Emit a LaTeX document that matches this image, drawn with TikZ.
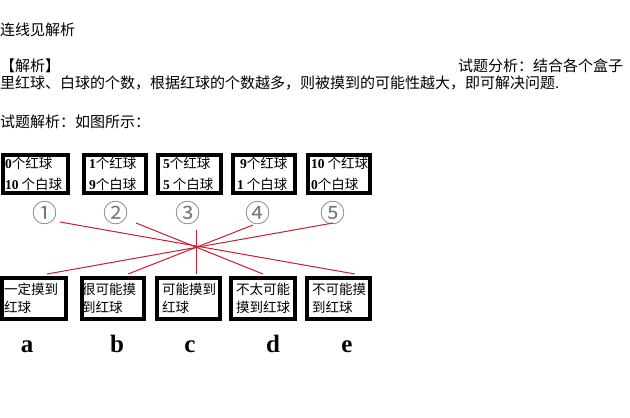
\documentclass[tikz,border=0pt]{standalone}
\usepackage{fontspec}
\setmainfont{Liberation Serif}
\newfontfamily\cjk{Noto Sans CJK SC}
\usetikzlibrary{positioning}
\definecolor{linered}{RGB}{200,30,45}
\definecolor{numgray}{RGB}{120,120,120}
\tikzset{
  txt/.style={inner sep=0pt, anchor=west, font=\cjk\fontsize{15}{16}\selectfont},
  ballbox/.style={draw=black, line width=4pt, minimum height=38pt, inner sep=0pt},
  resbox/.style={draw=black, line width=4pt, minimum height=41pt, inner sep=0pt},
  boxtxt/.style={inner sep=0pt, anchor=west, align=left, font=\cjk\fontsize{13.5}{21}\selectfont},
  restxt/.style={inner sep=0pt, anchor=west, align=left, font=\cjk\fontsize{13.5}{18}\selectfont},
  circnum/.style={inner sep=0pt, text=numgray, font=\cjk\fontsize{25}{25}\selectfont},
  letter/.style={inner sep=0pt, anchor=base, font=\bfseries\fontsize{25}{25}\selectfont},
  conn/.style={draw=linered, line width=1pt}
}
\newcommand{\nm}[1]{{\rmfamily\bfseries #1}}
\begin{document}
\begin{tikzpicture}[x=1pt,y=-1pt]
\useasboundingbox (0,0) rectangle (630,418);
% header text
\node[txt] (t1) at (0,30) {连线见解析};
\node[txt] (t2) at (0,66) {【解析】};
\node[txt] (t3) at (458,66) {试题分析：结合各个盒子};
\node[txt] (t4) at (0,83) {里红球、白球的个数，根据红球的个数越多，则被摸到的可能性越大，即可解决问题\textcolor{blue}{.}};
\node[txt] (t5) at (0,122) {试题解析：如图所示：};
% top boxes
\node[ballbox, minimum width=65pt] (b1) at (35.5,174) {};
\node[ballbox, minimum width=62pt] (b2) at (115,174) {};
\node[ballbox, minimum width=63pt] (b3) at (189.5,174) {};
\node[ballbox, minimum width=62pt] (b4) at (264,174) {};
\node[ballbox, minimum width=62pt] (b5) at (339,174) {};
\node[boxtxt] (bt1) at (5,174) {\nm{0}个红球\\\nm{10} 个白球};
\node[boxtxt] (bt2) at (89,174) {\nm{1}个红球\\\nm{9}个白球};
\node[boxtxt] (bt3) at (163,174) {\nm{5}个红球\\\nm{5} 个白球};
\node[boxtxt] (bt4) at (237,174) {\ \nm{9}个红球\\\nm{1} 个白球};
\node[boxtxt] (bt5) at (311,174) {\nm{10} 个红球\\\nm{0}个白球};
% circled numbers
\node[circnum] (c1) at (45,213) {①};
\node[circnum] (c2) at (116,213) {②};
\node[circnum] (c3) at (188,213) {③};
\node[circnum] (c4) at (258,213) {④};
\node[circnum] (c5) at (333,213) {⑤};
% bottom boxes
\node[resbox, minimum width=64pt] (ra) at (34,298.5) {};
\node[resbox, minimum width=62pt] (rb) at (113,298.5) {};
\node[resbox, minimum width=63pt] (rc) at (188.5,298.5) {};
\node[resbox, minimum width=64pt] (rd) at (263,298.5) {};
\node[resbox, minimum width=63pt] (re) at (338.5,298.5) {};
\node[restxt] (rta) at (4,298.5) {一定摸到\\红球};
\node[restxt] (rtb) at (82,298.5) {很可能摸\\到红球};
\node[restxt] (rtc) at (162,298.5) {可能摸到\\红球};
\node[restxt] (rtd) at (236,298.5) {不太可能\\摸到红球};
\node[restxt] (rte) at (312,298.5) {不可能摸\\到红球};
% letters
\node[letter] (la) at (27,352) {a};
\node[letter] (lb) at (117,352) {b};
\node[letter] (lc) at (190,352) {c};
\node[letter] (ld) at (273,352) {d};
\node[letter] (le) at (347,352) {e};
% connector end points
\coordinate (s1) at (60,222);
\coordinate (s2) at (136,223);
\coordinate (s3) at (196,230);
\coordinate (s4) at (253,225);
\coordinate (s5) at (333,223);
\coordinate (ea) at (47,274);
\coordinate (eb) at (128,274);
\coordinate (ec) at (196,274);
\coordinate (ed) at (263,274);
\coordinate (ee) at (355,274);
\draw[conn] (s1) -- (ee);
\draw[conn] (s2) -- (ed);
\draw[conn] (s3) -- (ec);
\draw[conn] (s4) -- (eb);
\draw[conn] (s5) -- (ea);
\end{tikzpicture}
\end{document}
